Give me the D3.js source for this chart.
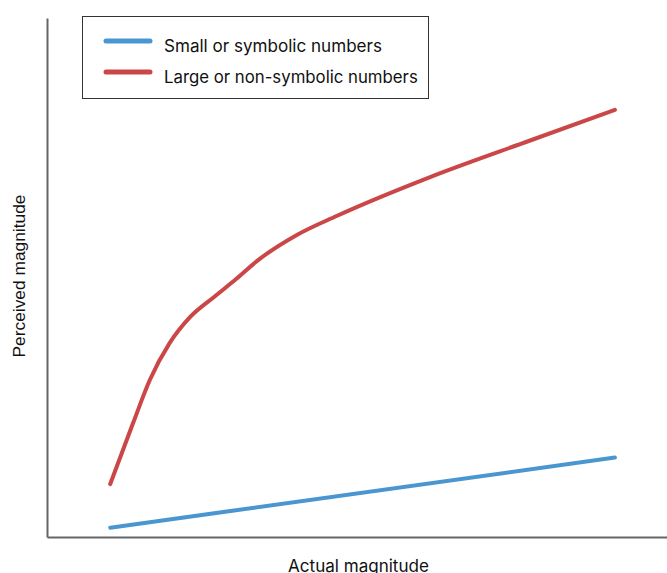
<!DOCTYPE html>
<html><head><meta charset="utf-8">
<script src="https://cdn.jsdelivr.net/npm/d3@7/dist/d3.min.js"></script>
<style>html,body{margin:0;padding:0;background:#fff;}svg{display:block;}</style>
</head><body>
<svg id="chart" width="667" height="573"></svg>
<script>
// Data (arbitrary units, 0-100 on both axes)
const seriesNames = ["Small or symbolic numbers", "Large or non-symbolic numbers"];
const seriesColors = ["#4a96d1", "#cb4647"];
const smallX = [10.2, 91.6];
const smallY = [1.8, 15.3];
const largeX = [10.2, 13.9, 16.6, 19.8, 23.1, 27.0, 30.5, 34.0, 40.3, 46.8, 61.9, 77.7, 91.6];
const largeY = [10.2, 22.0, 30.3, 37.4, 42.4, 46.3, 49.7, 53.3, 58.2, 61.9, 69.4, 76.3, 82.3];
const xLabel = "Actual magnitude";
const yLabel = "Perceived magnitude";

const svg = d3.select("#chart");
const x = d3.scaleLinear().domain([0, 100]).range([47, 667]);
const y = d3.scaleLinear().domain([0, 100]).range([537, 18]);

// axes (no ticks)
svg.append("g").attr("transform", `translate(0,${y(0)})`)
  .call(d3.axisBottom(x).tickValues([]).tickSizeOuter(0))
  .call(g => g.select(".domain").attr("stroke", "#666").attr("stroke-width", 2));
svg.append("g").attr("transform", `translate(${x(0)},0)`)
  .call(d3.axisLeft(y).tickValues([]).tickSizeOuter(0))
  .call(g => g.select(".domain").attr("stroke", "#666").attr("stroke-width", 2));

const line = d3.line().x(d => x(d[0])).y(d => y(d[1])).curve(d3.curveMonotoneX);
const smallData = smallX.map((v, i) => [v, smallY[i]]);
const largeData = largeX.map((v, i) => [v, largeY[i]]);

svg.append("path").datum(smallData).attr("d", line)
  .attr("fill", "none").attr("stroke", seriesColors[0]).attr("stroke-width", 4).attr("stroke-linecap", "round");
svg.append("path").datum(largeData).attr("d", line)
  .attr("fill", "none").attr("stroke", seriesColors[1]).attr("stroke-width", 4).attr("stroke-linecap", "round");

function fit(sel, w) {
  const fs = +sel.attr("font-size");
  const len = sel.node().getComputedTextLength();
  if (len > 0) sel.attr("font-size", (fs * w / len).toFixed(2));
}

// axis labels
const xl = svg.append("text").attr("x", 358.5).attr("y", 572).attr("text-anchor", "middle")
  .attr("font-family", "Inter, sans-serif").attr("font-size", 18).attr("fill", "#111")
  .text(xLabel);
fit(xl, 141);
const yl = svg.append("text").attr("transform", "translate(25,276) rotate(-90)").attr("text-anchor", "middle")
  .attr("font-family", "'Liberation Sans', Arial, sans-serif").attr("font-size", 16).attr("fill", "#111")
  .text(yLabel);
fit(yl, 163);

// legend
const lg = svg.append("g");
lg.append("rect").attr("x", 82.5).attr("y", 16.5).attr("width", 346).attr("height", 82)
  .attr("fill", "#fff").attr("stroke", "#333").attr("stroke-width", 1);
const legendWidths = [218, 254];
seriesNames.forEach((name, i) => {
  const yy = 41 + i * 31;
  lg.append("line").attr("x1", 106).attr("x2", 150).attr("y1", yy).attr("y2", yy)
    .attr("stroke", seriesColors[i]).attr("stroke-width", 5).attr("stroke-linecap", "round");
  const t = lg.append("text").attr("x", 164).attr("y", yy + 10.5)
    .attr("font-family", "Inter, sans-serif").attr("font-size", 16).attr("fill", "#111")
    .text(name);
  fit(t, legendWidths[i]);
});
</script>
</body></html>
